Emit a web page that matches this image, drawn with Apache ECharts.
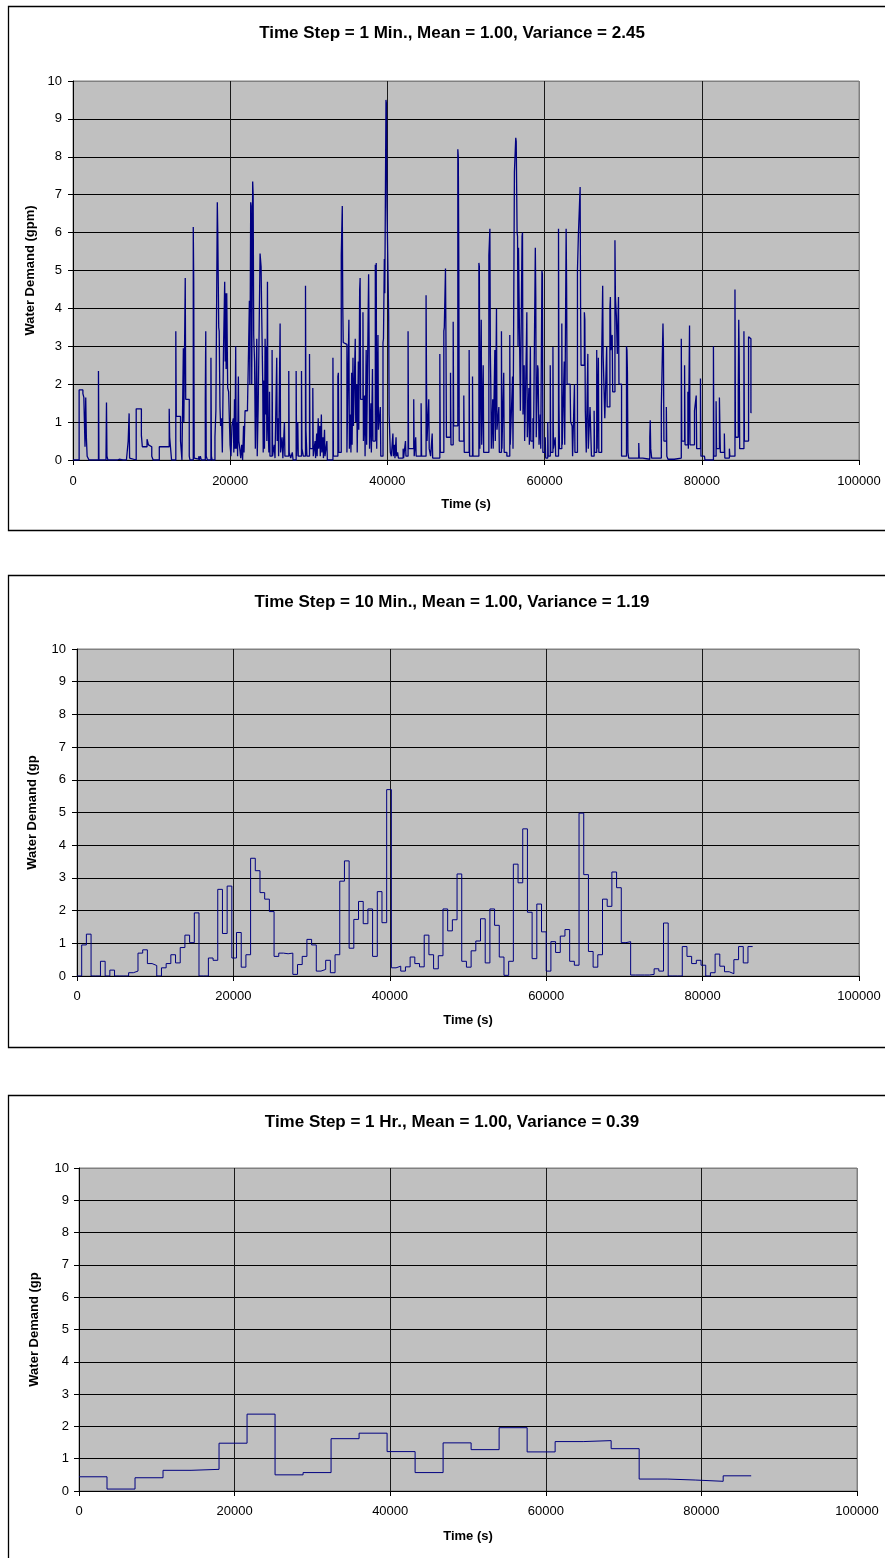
<!DOCTYPE html>
<html>
<head>
<meta charset="utf-8">
<script src="https://cdn.jsdelivr.net/npm/echarts@6/dist/echarts.min.js"></script>
<style>
html,body{margin:0;padding:0;background:#fff;}
#c{width:885px;height:1558px;}
</style>
</head>
<body>
<div id="c"></div>
<script>
// ---------- DATA ----------
const titles = [
  'Time Step = 1 Min., Mean = 1.00, Variance = 2.45',
  'Time Step = 10 Min., Mean = 1.00, Variance = 1.19',
  'Time Step = 1 Hr., Mean = 1.00, Variance = 0.39'
];
const yNames = ['Water Demand (gpm)', 'Water Demand (gp', 'Water Demand (gp'];
const xName = 'Time (s)';
const xTicks = [0, 20000, 40000, 60000, 80000, 100000];
const yTicks = [0, 1, 2, 3, 4, 5, 6, 7, 8, 9, 10];

// 1-minute series: [time (s) where the value changes, value held from then]
const demand1min = [
[0,0],[780,1.85],[1260,1.75],[1380,1.65],[1530,0.35],[1620,1.65],[1700,0.6],[1800,0.1],[1860,0.05],[2040,0],[3240,2.35],[3300,0],[4200,0.1],[4260,1.52],[4320,0.1],[4440,0],[5610,0.05],[5760,0.02],[5880,0],[6360,0.03],[6480,0],[6800,0.05],[7020,0.5],[7140,1.23],[7200,0.05],[7320,0],
[8040,1.35],[8700,0.65],[8820,0.35],[9420,0.55],[9600,0.4],[9780,0.35],[10020,0.1],[10200,0],[10980,0.35],[12240,1.35],[12300,0.6],[12540,0],[13080,3.4],[13140,1.15],[13680,0.5],[13860,0],[14040,2.95],[14100,1.0],[14280,4.8],[14340,1.6],[14790,0.1],[14880,0],
[15300,6.15],[15360,4.7],[15420,0.05],[15600,0.02],[16000,0.1],[16060,0],[16200,0.1],[16320,0],[16830,1.6],[16890,3.4],[16950,0.1],[17100,0],[17550,2.7],[17610,0.1],[17700,0],[18060,0.6],[18180,1.3],[18360,6.8],[18420,6.0],[18540,3.5],[18600,3.4],[18700,1.4],[18780,0.9],[18900,1.1],[19000,0.2],
[19140,2.8],[19300,4.7],[19360,2.6],[19420,4.4],[19480,2.4],[19560,4.4],[19680,1.9],[19800,1.8],[19980,0.4],[20100,0.1],[20220,0.9],[20400,1.1],[20460,0.2],[20550,1.6],[20610,0.3],[20700,3.0],[20760,0.3],[20880,1.0],[20940,0.1],[21040,2.2],[21100,0.5],[21220,0.3],[21340,0.05],[21460,0.4],[21580,0],[21700,0.9],[21760,0.2],
[21890,1.3],[22200,1.4],[22360,3.2],[22440,4.2],[22500,2.0],[22610,6.8],[22670,6.7],[22740,2.0],[22860,7.35],[22920,7.0],[22990,3.3],[23100,2.6],[23200,0.3],[23380,3.2],[23440,0.1],[23560,1.4],[23800,5.45],[23930,5.1],[23990,4.1],[24140,2.0],[24200,0.2],[24300,2.1],[24360,0.3],[24440,3.2],[24500,1.2],[24600,3.0],[24660,0.5],[24740,4.7],[24800,1.0],[24920,0.2],[25000,1.8],[25060,0.1],
[25330,2.9],[25390,0.1],[25600,0.4],[25700,0.05],[25920,2.7],[25980,0.5],[26100,1.1],[26160,0.1],[26350,3.6],[26410,0.2],[26600,0.6],[26700,0.05],[26900,1.0],[26960,0.1],[27450,2.35],[27510,0.2],[27700,0.05],[27900,0.2],[28000,0],[28390,2.35],[28450,0.1],[28600,1.0],[28660,0.1],[29070,2.35],[29130,0.3],[29300,0.1],
[29580,4.6],[29640,0.8],[29760,0.1],[30090,2.8],[30150,0.3],[30510,1.9],[30570,0.1],[30800,0.5],[30860,0.05],[31000,0.7],[31060,0.1],[31200,1.1],[31260,0.3],[31400,0.9],[31460,0.1],[31600,1.2],[31660,0.2],[31800,0.6],[31860,0.05],[32000,0.8],[32060,0.1],[32300,0.5],[32360,0],
[33070,2.7],[33130,0.1],[33700,2.2],[33760,2.3],[33820,0.2],[34130,5.4],[34260,6.7],[34320,4.1],[34380,3.1],[34600,3.05],[34850,0.2],[35100,3.7],[35160,0.3],[35300,1.2],[35360,0.2],[35450,2.3],[35510,0.4],[35620,2.7],[35680,0.9],[35910,3.2],[35970,1.0],[36100,2.0],[36160,0.2],[36300,2.6],[36360,0.8],[36470,4.5],[36530,4.8],[36590,1.6],[36890,3.9],[36950,0.5],[37100,1.7],[37160,0.1],[37300,2.9],[37360,0.4],
[37610,4.9],[37670,3.2],[37730,0.3],[37900,1.5],[37960,0.2],[38100,2.4],[38160,0.5],[38460,5.15],[38520,3.6],[38580,5.2],[38640,0.3],[38800,3.3],[38860,0.8],[39100,1.4],[39160,0.1],[39440,3.1],[39500,3.2],[39610,5.3],[39670,4.4],[39820,9.5],[39880,9.4],[39940,6.8],[40160,3.8],[40220,1.2],[40370,0.2],[40500,0.1],
[40700,0.7],[40760,0.1],[40900,0.4],[40960,0.05],[41100,0.6],[41160,0.1],[41300,0.2],[41400,0.05],[42000,0.3],[42060,0.05],[42300,0.5],[42360,0.1],[42630,3.4],[42690,0.3],[43350,1.6],[43410,0.1],[43600,0.6],[43660,0.1],[44290,1.5],[44350,0.1],[44920,4.35],[44980,2.0],[45040,0.5],[45260,1.6],[45320,0.3],[45500,0.1],[45700,0.7],[45760,0.05],
[46670,2.8],[46730,0.2],[47180,3.4],[47240,3.5],[47390,5.05],[47450,3.2],[47510,0.6],[48030,2.3],[48090,0.4],[48370,3.65],[48430,0.9],[48960,8.2],[49020,8.0],[49080,5.4],[49140,0.5],[49720,1.7],[49780,0.2],[50400,2.9],[50460,0.1],[50830,2.2],[50890,0.1],[51640,5.2],[51700,5.1],[51760,0.3],
[51940,3.7],[52000,0.4],[52190,2.5],[52250,0.2],[52910,5.4],[53040,6.1],[53100,2.8],[53160,1.9],[53220,0.3],[53400,1.6],[53460,0.3],[53670,2.9],[53730,0.5],[53880,4.0],[53940,0.8],[54180,1.4],[54240,0.2],[54510,3.4],[54570,0.3],[54800,2.3],[54860,0.2],[55200,0.1],[55570,3.3],[55630,0.4],[55860,1.8],[55920,2.2],[55980,0.3],
[56160,7.6],[56330,8.5],[56390,8.4],[56500,6.0],[56560,5.9],[56620,3.0],[56680,5.6],[56920,1.3],[57130,5.9],[57190,6.0],[57250,1.2],[57400,2.5],[57460,0.5],[57680,3.0],[57740,3.9],[57800,0.6],[58000,1.9],[58060,0.4],[58190,3.0],[58250,0.5],[58520,1.1],[58580,0.3],[58820,5.6],[58880,4.3],[58940,0.6],[59110,2.5],[59170,2.4],[59290,0.4],[59450,1.2],[59510,0.3],[59660,5.0],[59720,4.9],[59780,0.2],
[60080,0.6],[60140,0.05],[60400,1.0],[60460,0.1],[60720,2.5],[60780,0.2],[61060,2.98],[61120,0.3],[61350,0.6],[61410,0.1],[61770,6.1],[61830,1.5],[61890,0.3],[62190,3.6],[62250,0.4],[62500,2.6],[62560,0.4],[62740,6.1],[62800,4.6],[62860,2.0],[63250,2.0],[63310,1.0],[63500,0.9],[63560,0.1],[63800,2.0],[63860,0.2],
[64180,5.0],[64300,5.95],[64520,7.2],[64580,4.0],[64640,2.5],[65060,3.9],[65120,3.7],[65180,1.3],[65300,0.2],[65500,2.8],[65560,0.3],[65780,1.4],[65960,0.1],[66300,1.3],[66360,0.2],[66630,2.9],[66690,0.3],[66840,2.7],[66900,0.2],[67260,2.7],[67390,4.6],[67450,2.75],[67600,2.8],[67660,1.1],[67900,3.0],[67960,1.4],[68310,4.0],[68370,4.3],[68430,2.9],[68600,3.3],[68660,1.8],
[68950,5.8],[69010,4.3],[69070,4.35],[69130,3.8],[69250,2.8],[69400,4.3],[69460,2.0],[69790,0.1],[70420,3.0],[70480,2.9],[70540,2.3],[70600,0.2],[70700,0.05],[71980,0.45],[72040,0.05],[72500,0.02],[73380,0.6],[73440,1.05],[73500,0.3],[73620,0.05],[74850,1.4],[75060,3.6],[75120,2.9],[75180,0.5],[75490,1.4],[75550,0.1],[75700,0.02],[76500,0.05],
[77390,3.2],[77450,0.5],[77810,2.5],[77870,0.4],[78230,1.8],[78290,0.3],[78440,3.55],[78500,0.4],[79070,1.3],[79290,1.7],[79350,0.3],[79830,2.15],[79890,0.1],[80340,0.05],[80400,0],[81480,3.0],[81540,0.1],[81820,1.55],[81880,0.3],[82240,1.65],[82300,1.6],[82360,0.2],[82870,0.7],[82930,0.05],[83510,0.3],[83570,0.1],
[84220,4.5],[84280,0.6],[84640,1.8],[84700,3.7],[84760,2.7],[84820,0.3],[85360,3.4],[85420,0.5],[85950,3.25],[86010,3.2],[86250,1.25],[86340,1.25]
];

// 10-minute series: one value per 600 s step
const step2 = 600;
const v2 = [0,0.95,1.28,0,0,0.45,0,0.18,0,0,0,0.1,0.15,0.7,0.8,0.38,0.32,0,0.25,0.38,
0.65,0.4,0.87,1.25,1.02,1.93,0,0,0.55,0.48,2.65,1.3,2.75,0.55,1.33,0.27,0.65,3.6,3.22,2.55,
2.35,1.97,0.6,0.7,0.68,0.7,0.05,0.35,0.6,1.12,0.95,0.15,0.2,0.48,0.1,0.65,2.9,3.52,0.85,1.73,
2.28,1.6,2.05,0.6,2.58,1.63,5.7,0.25,0.3,0.15,0.28,0.58,0.38,0.28,1.25,0.65,0.22,0.62,2.05,1.38,
1.72,3.12,0.45,0.27,0.77,1.07,1.75,0.4,2.05,1.55,0.58,0.02,0.45,3.42,2.85,4.5,1.95,0.53,2.2,1.35,
0.15,1.05,0.72,1.22,1.42,0.45,0.33,4.98,3.1,0.75,0.27,0.65,2.35,2.13,3.18,2.7,1.02,1.05,0.03,0.03,
0.03,0.03,0.05,0.22,0.15,1.62,0,0,0,0.9,0.6,0.38,0.48,0.33,0,0.1,0.67,0.3,0.13,0.07,
0.5,0.9,0.4,0.9];

// 1-hour series: one value per 3600 s step
const step3 = 3600;
const v3 = [0.44,0.06,0.41,0.64,0.67,1.48,2.38,0.5,0.57,1.62,1.79,1.22,0.57,1.49,1.28,1.96,1.21,1.53,1.56,1.31,0.37,0.34,0.30,0.47];

// ---------- BUILD ----------
const FONT = '"Liberation Sans", Arial, Helvetica, sans-serif';
const pairs1 = demand1min.map(p => [p[0], p[1]]);
const pairs2 = v2.map((v, i) => [i * step2, v]);
pairs2.push([v2.length * step2, v2[v2.length - 1]]);
const pairs3 = v3.map((v, i) => [i * step3, v]);
pairs3.push([v3.length * step3, v3[v3.length - 1]]);

const grids = [
  {left: 73, top: 81, width: 786, height: 379},
  {left: 77, top: 649, width: 782, height: 327},
  {left: 79, top: 1168, width: 778, height: 323}
];
const yGap = [36, 38, 38];
const yMargin = [11, 11, 10];
const xMargin = [15, 14, 14];
const xGap = [38, 38, 39];
const lineW = [1.3, 1, 1];

const hColors = yTicks.map((v, i) => i === yTicks.length - 1 ? '#808080' : '#000000');
const vColors = xTicks.map((v, i) => i === xTicks.length - 1 ? '#808080' : '#1a1a1a');
const plain = v => String(v);

const xAxes = grids.map((g, i) => ({
  gridIndex: i, type: 'value', min: xTicks[0], max: xTicks[xTicks.length - 1],
  interval: xTicks[1] - xTicks[0],
  name: xName, nameLocation: 'middle', nameGap: xGap[i],
  nameTextStyle: {fontFamily: FONT, fontWeight: 'bold', fontSize: 13, color: '#000'},
  axisLine: {show: true, onZero: false, lineStyle: {color: '#000', width: 1}},
  axisTick: {show: true, length: 5, lineStyle: {color: '#000'}},
  axisLabel: {fontFamily: FONT, fontSize: 13, color: '#000', margin: xMargin[i], formatter: plain},
  splitLine: {show: true, lineStyle: {color: vColors, width: 1}}
}));
const yAxes = grids.map((g, i) => ({
  gridIndex: i, type: 'value', min: yTicks[0], max: yTicks[yTicks.length - 1],
  interval: yTicks[1] - yTicks[0],
  name: yNames[i], nameLocation: 'middle', nameGap: yGap[i],
  nameTextStyle: {fontFamily: FONT, fontWeight: 'bold', fontSize: 13, color: '#000'},
  axisLine: {show: true, lineStyle: {color: '#000', width: 1}},
  axisTick: {show: true, length: 5, lineStyle: {color: '#000'}},
  axisLabel: {fontFamily: FONT, fontSize: 13, color: '#000', margin: yMargin[i], formatter: plain},
  splitLine: {show: true, lineStyle: {color: hColors, width: 1}}
}));

const seriesData = [pairs1, pairs2, pairs3];
const series = seriesData.map((d, i) => ({
  type: 'line', xAxisIndex: i, yAxisIndex: i, data: d, step: 'end',
  showSymbol: false, symbol: 'none', sampling: null, silent: true,
  lineStyle: {color: '#000080', width: lineW[i]}, z: 5
}));

const boxes = [
  {y: 6, h: 524}, {y: 575, h: 472}, {y: 1095, h: 480}
];
const titleY = [33, 602, 1122];
const graphic = [];
boxes.forEach((b, i) => {
  graphic.push({type: 'rect', silent: true, z: 0,
    shape: {x: 8.5, y: b.y + 0.5, width: 900, height: b.h},
    style: {fill: 'none', stroke: '#000', lineWidth: 1.3}});
  graphic.push({type: 'text', silent: true, z: 10,
    style: {x: 452, y: titleY[i], text: titles[i], fill: '#000',
      font: 'bold 17px ' + FONT, textAlign: 'center', textVerticalAlign: 'middle',
      align: 'center', verticalAlign: 'middle'}});
});

const chart = echarts.init(document.getElementById('c'), null, {renderer: 'canvas'});
chart.setOption({
  animation: false,
  backgroundColor: '#ffffff',
  grid: grids.map(g => Object.assign({show: true, backgroundColor: '#C0C0C0', borderColor: '#808080', borderWidth: 1}, g)),
  xAxis: xAxes,
  yAxis: yAxes,
  series: series,
  graphic: graphic
});
</script>
</body>
</html>
